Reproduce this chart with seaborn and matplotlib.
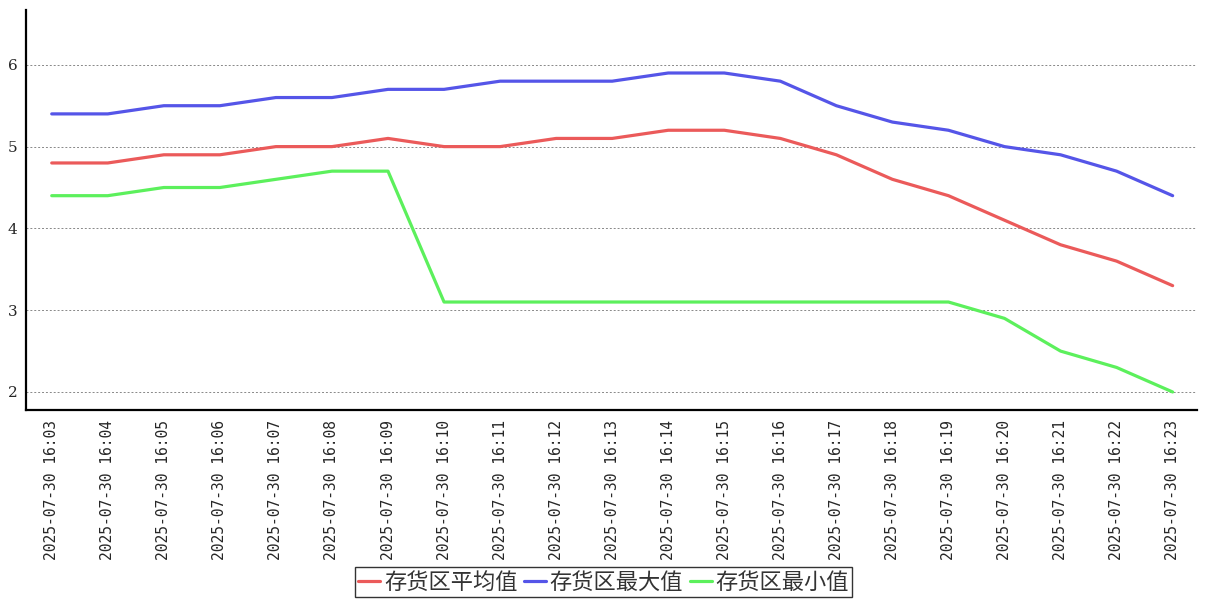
import pandas as pd
import seaborn as sns
import matplotlib.pyplot as plt

# 数据
tiempos = ["2025-07-30 16:%02d" % m for m in range(3, 24)]
promedio = [4.8, 4.8, 4.9, 4.9, 5.0, 5.0, 5.1, 5.0, 5.0, 5.1, 5.1,
            5.2, 5.2, 5.1, 4.9, 4.6, 4.4, 4.1, 3.8, 3.6, 3.3]
maximo = [5.4, 5.4, 5.5, 5.5, 5.6, 5.6, 5.7, 5.7, 5.8, 5.8, 5.8,
          5.9, 5.9, 5.8, 5.5, 5.3, 5.2, 5.0, 4.9, 4.7, 4.4]
minimo = [4.4, 4.4, 4.5, 4.5, 4.6, 4.7, 4.7, 3.1, 3.1, 3.1, 3.1,
          3.1, 3.1, 3.1, 3.1, 3.1, 3.1, 2.9, 2.5, 2.3, 2.0]
series = ["存货区平均值", "存货区最大值", "存货区最小值"]
colores = ["#eb5a5a", "#5555e8", "#5cf05c"]

df = pd.DataFrame({"tiempo": tiempos, series[0]: promedio,
                   series[1]: maximo, series[2]: minimo})
df_largo = df.melt(id_vars="tiempo", var_name="serie", value_name="valor")

sns.set_style("white")
plt.rcParams['font.family'] = ['Noto Sans CJK SC', 'DejaVu Sans']

fig = plt.figure(figsize=(12.07, 6.0), dpi=100)
ax = fig.add_axes([0.0215, 0.3167, 0.970, 0.6666])

sns.lineplot(data=df_largo, x="tiempo", y="valor", hue="serie",
             palette=dict(zip(series, colores)), linewidth=2.3, ax=ax,
             sort=False, legend=True)

ax.set_xlim(-0.46, len(tiempos) - 1 + 0.43)
ax.set_ylim(1.78, 6.67)
ax.set_yticks([2, 3, 4, 5, 6])
ax.set_yticklabels(["2", "3", "4", "5", "6"], family="DejaVu Serif", fontsize=11)
ax.set_xticks(range(len(tiempos)))
ax.set_xticklabels(tiempos, rotation=90, family="DejaVu Sans Mono", fontsize=10.5)
ax.tick_params(axis="x", length=3, width=0.8, color="#888888", pad=4)
ax.tick_params(axis="y", length=0, pad=6)
ax.set_xlabel("")
ax.set_ylabel("")
ax.grid(axis="y", linestyle=(0, (2, 2)), color="#888888", linewidth=0.7)
ax.set_axisbelow(True)

for lado in ["top", "right"]:
    ax.spines[lado].set_visible(False)
for lado in ["left", "bottom"]:
    ax.spines[lado].set_color("black")
    ax.spines[lado].set_linewidth(1.6)

# Leyenda abajo, en coordenadas de la figura
handles, labels = ax.get_legend_handles_labels()
ax.get_legend().remove()
leg = fig.legend(handles, labels, loc="center", bbox_to_anchor=(0.5, 0.03),
                 ncol=3, frameon=True, fancybox=False, fontsize=16,
                 handlelength=1.0, handletextpad=0.15, columnspacing=0.3,
                 borderpad=0.15, borderaxespad=0)
leg.get_frame().set_edgecolor("black")
leg.get_frame().set_linewidth(1.0)
for t in leg.get_texts():
    t.set_color("#333333")

fig.savefig("out.png", dpi=100)
